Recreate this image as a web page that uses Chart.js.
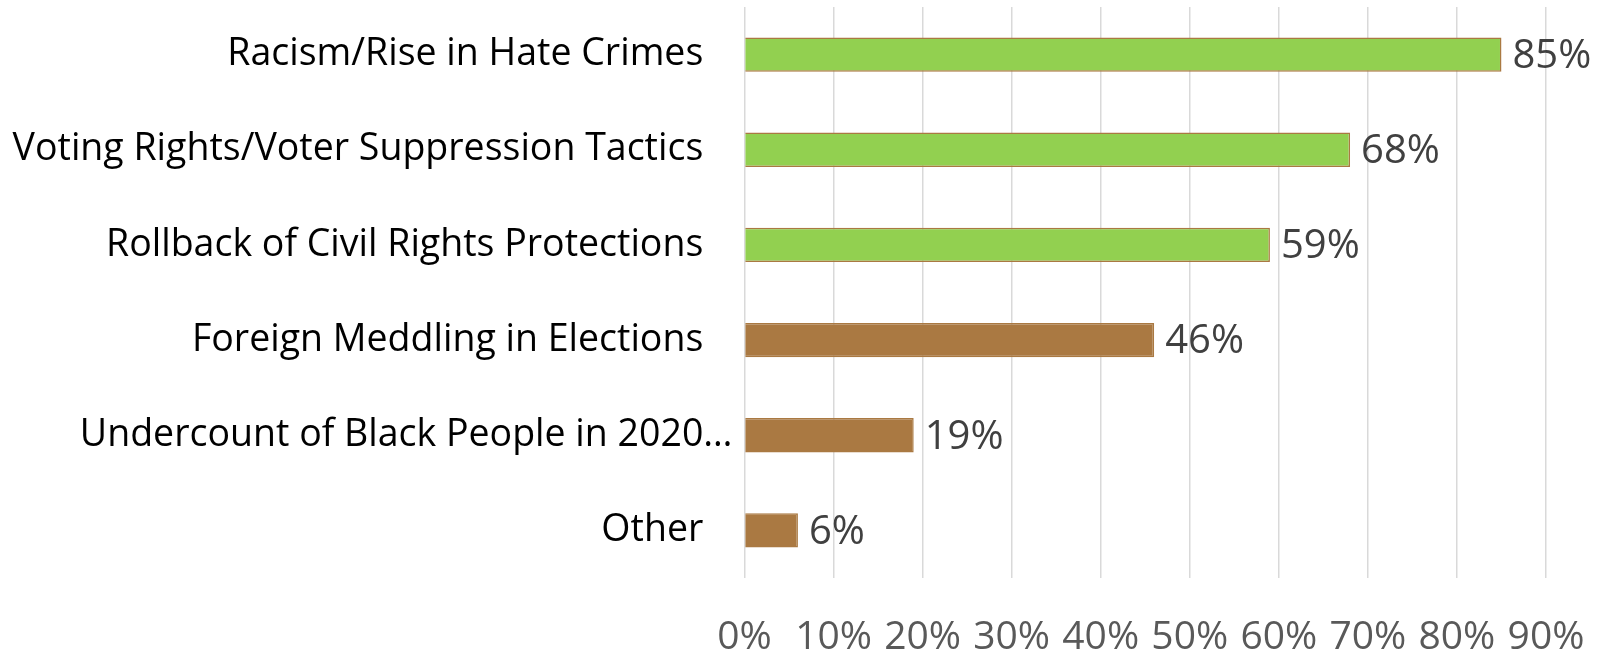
<!DOCTYPE html>
<html>
<head>
<meta charset="utf-8">
<script src="https://cdn.jsdelivr.net/npm/chart.js@4/dist/chart.umd.min.js"></script>
<style>
html,body{margin:0;padding:0;background:#fff;}
#wrap{width:1597px;height:653px;position:relative;}
</style>
</head>
<body>
<div id="wrap"><canvas id="c"></canvas></div>
<script>
const categories = [
  "Racism/Rise in Hate Crimes",
  "Voting Rights/Voter Suppression Tactics",
  "Rollback of Civil Rights Protections",
  "Foreign Meddling in Elections",
  "Undercount of Black People in 2020…",
  "Other"
];
const values = [85, 68, 59, 46, 19, 6];
const barColors = ["#92D050", "#92D050", "#92D050", "#AA7942", "#AA7942", "#AA7942"];
const tickValues = [0, 10, 20, 30, 40, 50, 60, 70, 80, 90];

const FONT = "'Open Sans', sans-serif";

const valueLabels = {
  id: 'valueLabels',
  afterDatasetsDraw(chart) {
    const ctx = chart.ctx;
    const meta = chart.getDatasetMeta(0);
    ctx.save();
    ctx.font = "40px " + FONT;
    ctx.fillStyle = "#404040";
    ctx.textBaseline = "middle";
    ctx.textAlign = "left";
    meta.data.forEach((bar, i) => {
      ctx.fillText(values[i] + "%", bar.x + 11, bar.y + 2);
    });
    ctx.restore();
  }
};

new Chart(document.getElementById('c'), {
  type: 'bar',
  data: {
    labels: categories,
    datasets: [{
      data: values,
      backgroundColor: barColors,
      borderColor: "#AA7942",
      borderWidth: 1.5,
      categoryPercentage: 1,
      barPercentage: 0.36
    }]
  },
  options: {
    indexAxis: 'y',
    responsive: true,
    maintainAspectRatio: false,
    animation: false,
    layout: { padding: { top: 7, right: 51, left: 0, bottom: 0 } },
    plugins: { legend: { display: false }, tooltip: { enabled: false } },
    scales: {
      x: {
        min: 0, max: 90,
        afterBuildTicks(axis) { axis.ticks = tickValues.map(v => ({ value: v })); },
        afterFit(axis) {
          axis.height = 75;
          axis.paddingLeft = 0; axis.paddingRight = 0;
        },
        grid: { color: "#D9D9D9", lineWidth: 1.5, drawTicks: false },
        border: { display: false },
        ticks: {
          padding: 40,
          color: "#595959",
          font: { family: FONT, size: 39, lineHeight: 1 },
          callback: v => v + "%",
          maxRotation: 0, autoSkip: false
        }
      },
      y: {
        afterFit(axis) {
          axis.width = 744.5;
          axis.paddingTop = 0; axis.paddingBottom = 0;
        },
        grid: { display: false, drawTicks: false },
        border: { display: false },
        ticks: {
          padding: 12,
          color: "#000000",
          font: { family: FONT, size: 37.5 },
          autoSkip: false,
          callback(v) {
            const s = this.getLabelForValue(v);
            return s.endsWith("…") ? s : s + "   ";
          }
        }
      }
    }
  },
  plugins: [valueLabels]
});
</script>
</body>
</html>
